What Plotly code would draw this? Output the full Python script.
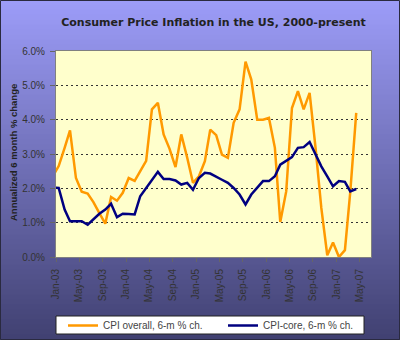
import pandas as pd
import plotly.graph_objects as go

# Monthly observations, Dec-2002 through Apr-2007 (plotted mid-month)
months = pd.date_range("2002-12-01", "2007-04-01", freq="MS") + pd.Timedelta(days=14)

cpi_overall = [
    2.35, 2.65, 3.18, 3.69, 2.30, 1.90, 1.85, 1.60, 1.28, 0.97, 1.75, 1.64, 1.87,
    2.30, 2.22, 2.50, 2.80, 4.30, 4.49, 3.57, 3.15, 2.62, 3.57, 2.89, 2.16,
    2.35, 2.79, 3.71, 3.55, 2.98, 2.89, 3.91, 4.30, 5.69, 5.17, 4.00, 4.00,
    4.05, 3.18, 1.02, 1.91, 4.34, 4.83, 4.30, 4.78, 3.18, 1.43, 0.05, 0.42,
    0.00, 0.20, 1.90, 4.20,
]
cpi_core = [
    2.02, 2.01, 1.38, 1.04, 1.04, 1.04, 0.94, 1.09, 1.26, 1.38, 1.55, 1.16, 1.26,
    1.25, 1.24, 1.77, 2.01, 2.25, 2.48, 2.27, 2.27, 2.23, 2.11, 2.16, 1.96,
    2.30, 2.45, 2.43, 2.35, 2.25, 2.16, 2.01, 1.82, 1.53, 1.82, 2.01, 2.21,
    2.21, 2.35, 2.69, 2.81, 2.91, 3.18, 3.20, 3.35, 2.98, 2.64, 2.35, 2.06,
    2.21, 2.19, 1.91, 1.98,
]
y_ticks = [0, 1, 2, 3, 4, 5, 6]
y_labels = ["0.0%", "1.0%", "2.0%", "3.0%", "4.0%", "5.0%", "6.0%"]

W, H = 400, 340
ML, MR, MT, MB = 56, 29, 51, 83
PW, PH = W - ML - MR, H - MT - MB
FONT = "Liberation Sans, Arial, sans-serif"
TITLE_FONT = "DejaVu Sans, Verdana, sans-serif"


def px_x(p):
    return (p - ML) / PW


def px_y(p):
    return (H - MB - p) / PH


def mix(c1, c2, t):
    return "rgb(%d,%d,%d)" % tuple(round(a + (b - a) * t) for a, b in zip(c1, c2))


shapes = []
# vertical background gradient
top_c, bot_c = (156, 156, 248), (64, 64, 112)
band = 5
for i in range(0, H, band):
    shapes.append(dict(
        type="rect", xref="paper", yref="paper", layer="below",
        x0=px_x(-2), x1=px_x(W + 2), y0=px_y(i + band + 0.5), y1=px_y(i - 0.5),
        fillcolor=mix(top_c, bot_c, i / H), line=dict(width=0),
    ))
# plot area fill
shapes.append(dict(
    type="rect", xref="x domain", yref="y domain", layer="below",
    x0=0, x1=1, y0=0, y1=1, fillcolor="#FFFFCC", line=dict(width=0),
))
# legend box
shapes.append(dict(
    type="rect", xref="paper", yref="paper", layer="below",
    x0=px_x(56), x1=px_x(364), y0=px_y(334), y1=px_y(316),
    fillcolor="#FFFFFF", line=dict(color="#222222", width=1),
))
# outer frame
shapes.append(dict(
    type="rect", xref="paper", yref="paper", layer="above",
    x0=px_x(0.5), x1=px_x(W - 0.5), y0=px_y(H - 0.5), y1=px_y(0.5),
    line=dict(color="#2a2a40", width=1),
))

fig = go.Figure()
fig.add_trace(go.Scatter(
    x=months, y=cpi_overall, mode="lines", name="CPI overall, 6-m % ch.",
    line=dict(color="#FF9900", width=2.5), legend="legend",
))
fig.add_trace(go.Scatter(
    x=months, y=cpi_core, mode="lines", name="CPI-core, 6-m % ch.",
    line=dict(color="#000080", width=2.5), legend="legend2",
))

legend_style = dict(
    orientation="h", xanchor="left", y=px_y(325.5), yanchor="middle",
    bgcolor="rgba(0,0,0,0)", borderwidth=0, itemwidth=30,
    font=dict(family=FONT, size=10, color="#444444"),
)

fig.update_layout(
    width=W, height=H,
    margin=dict(l=ML, r=MR, t=MT, b=MB, pad=0, autoexpand=False),
    paper_bgcolor="#8c8ce0",
    plot_bgcolor="rgba(0,0,0,0)",
    font=dict(family=FONT, size=10, color="#333333"),
    title=dict(
        text="<b>Consumer Price Inflation in the US, 2000-present</b>",
        x=0.5, xref="paper", xanchor="center",
        y=1 - 22 / H, yref="container", yanchor="middle",
        font=dict(family=TITLE_FONT, size=11, color="#222222"),
    ),
    showlegend=True,
    legend=dict(x=px_x(63), **legend_style),
    legend2=dict(x=px_x(223), **legend_style),
    shapes=shapes,
    annotations=[dict(
        text="<b>Annualized 6 month % change</b>", textangle=-90,
        xref="paper", yref="paper", x=px_x(13.5), y=px_y(152.5),
        xanchor="center", yanchor="middle", showarrow=False,
        font=dict(family=FONT, size=9.5, color="#222222"),
    )],
)

fig.update_xaxes(
    type="date", range=["2003-01-01", "2007-07-01"],
    tick0="2003-01-01", dtick="M4", tickformat="%b-%y",
    tickangle=-90, ticks="outside", ticklen=4, tickcolor="#666666",
    ticklabelstandoff=3,
    showgrid=False, showline=True, mirror=True, linecolor="#808080", linewidth=1,
    tickfont=dict(family=FONT, size=10, color="#333333"),
    zeroline=False, automargin=False,
)
fig.update_yaxes(
    range=[0, 6], tickvals=y_ticks, ticktext=y_labels,
    ticks="outside", ticklen=5, tickcolor="#666666",
    ticklabelstandoff=3,
    showgrid=True, gridcolor="#333333", gridwidth=1, griddash="2px,3px",
    showline=True, mirror=True, linecolor="#808080", linewidth=1,
    zeroline=False, automargin=False,
    tickfont=dict(family=FONT, size=10, color="#333333"),
)

fig.write_html("out.html")
